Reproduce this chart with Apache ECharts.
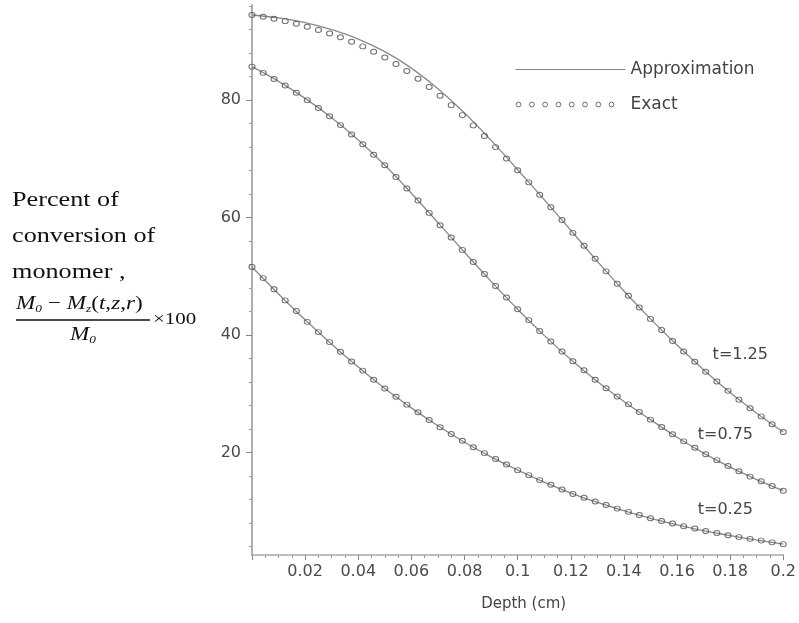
<!DOCTYPE html>
<html>
<head>
<meta charset="utf-8">
<script src="https://cdn.jsdelivr.net/npm/echarts@6/dist/echarts.min.js"></script>
<style>
  html, body { margin: 0; padding: 0; background: #fff; }
  #chart { width: 799px; height: 623px; }
</style>
</head>
<body>
<div id="chart"></div>
<script>
// Depth grid (cm) for the exact solution points
const depthExact = [0, 0.0042, 0.0083, 0.0125, 0.0167, 0.0208, 0.025, 0.0292, 0.0333, 0.0375,
  0.0417, 0.0458, 0.05, 0.0542, 0.0583, 0.0625, 0.0667, 0.0708, 0.075, 0.0792,
  0.0833, 0.0875, 0.0917, 0.0958, 0.1, 0.1042, 0.1083, 0.1125, 0.1167, 0.1208,
  0.125, 0.1292, 0.1333, 0.1375, 0.1417, 0.1458, 0.15, 0.1542, 0.1583, 0.1625,
  0.1667, 0.1708, 0.175, 0.1792, 0.1833, 0.1875, 0.1917, 0.1958, 0.2];

// Depth grid (cm) for the approximate curves
const depthApprox = [0, 0.01, 0.02, 0.03, 0.04, 0.05, 0.06, 0.07, 0.08, 0.09, 0.1,
  0.11, 0.12, 0.13, 0.14, 0.15, 0.16, 0.17, 0.18, 0.19, 0.2];

// Percent conversion, approximation
const approxT125 = [94.5, 94.0, 93.2, 92.0, 90.4, 88.25, 85.45, 81.95, 77.8, 73.15, 68.15,
  63.05, 57.85, 52.55, 47.5, 42.75, 38.3, 34.1, 30.2, 26.7, 23.5];
const approxT075 = [85.7, 83.2, 80.3, 77.0, 73.2, 68.9, 64.15, 59.15, 54.1, 49.15, 44.4,
  39.95, 35.85, 32.1, 28.7, 25.6, 22.6, 19.9, 17.5, 15.4, 13.5];
const approxT025 = [51.6, 47.0, 42.6, 38.45, 34.55, 30.9, 27.6, 24.55, 21.75, 19.25, 17.0,
  14.95, 13.1, 11.5, 10.1, 8.8, 7.7, 6.7, 5.85, 5.1, 4.4];

// Percent conversion, exact solution
const exactT125 = [94.5, 94.2, 93.85, 93.45, 93.0, 92.5, 91.95, 91.35, 90.7, 89.95,
  89.15, 88.25, 87.25, 86.15, 84.95, 83.65, 82.25, 80.75, 79.15, 77.45,
  75.7, 73.9, 72.0, 70.05, 68.05, 66.0, 63.9, 61.75, 59.6, 57.4,
  55.2, 53.0, 50.85, 48.75, 46.7, 44.7, 42.75, 40.85, 39.0, 37.2,
  35.45, 33.75, 32.1, 30.5, 29.0, 27.55, 26.15, 24.8, 23.5];
const exactT075 = [85.7, 84.65, 83.6, 82.5, 81.25, 80.0, 78.65, 77.25, 75.75, 74.15,
  72.5, 70.7, 68.9, 66.9, 64.95, 62.9, 60.8, 58.7, 56.6, 54.5,
  52.45, 50.4, 48.35, 46.4, 44.4, 42.55, 40.7, 38.9, 37.2, 35.55,
  34.0, 32.4, 30.95, 29.55, 28.2, 26.9, 25.6, 24.35, 23.1, 21.9,
  20.8, 19.7, 18.7, 17.7, 16.8, 15.9, 15.1, 14.3, 13.5];
const exactT025 = [51.6, 49.7, 47.8, 45.9, 44.1, 42.25, 40.5, 38.8, 37.15, 35.5,
  33.95, 32.4, 30.9, 29.5, 28.15, 26.85, 25.55, 24.3, 23.15, 22.0,
  20.9, 19.9, 18.9, 17.95, 17.0, 16.15, 15.3, 14.5, 13.7, 12.95,
  12.3, 11.65, 11.05, 10.45, 9.9, 9.35, 8.8, 8.35, 7.9, 7.45,
  7.05, 6.65, 6.3, 5.9, 5.6, 5.3, 5.0, 4.7, 4.4];

// Curve names and axis ticks
const curveNames = ['t=1.25', 't=0.75', 't=0.25'];
const yMajorTicks = [20, 40, 60, 80];
const yMinorTicks = [4, 8, 12, 16, 24, 28, 32, 36, 44, 48, 52, 56, 64, 68, 72, 76, 84, 88, 92, 96];
const yRange = [2.55, 96.2];
const xRange = [0, 0.2];

const pairs = (xs, ys) => xs.map((x, i) => [x, ys[i]]);

const SANS = '"DejaVu Sans", sans-serif';
const SERIF = '"Liberation Serif", "Times New Roman", serif';
const LINE_COLOR = '#8a8a8a';
const DOT_COLOR = '#4d4d4d';

function lineSeries(values) {
  return {
    type: 'line', name: 'Approximation',
    data: pairs(depthApprox, values),
    smooth: 0.4, showSymbol: false, silent: true,
    lineStyle: { color: LINE_COLOR, width: 1.3 },
    itemStyle: { color: LINE_COLOR },
    z: 2
  };
}
function dotSeries(values) {
  return {
    type: 'scatter', name: 'Exact',
    data: pairs(depthExact, values),
    symbol: 'circle', symbolSize: [6, 5], silent: true,
    itemStyle: { color: 'rgba(255,255,255,0)', borderColor: DOT_COLOR, borderWidth: 1 },
    z: 3
  };
}

// legend icons: a thin rule, and a row of small rings
const ruleIcon = 'path://M0,0M110,8M0,3.4L110,3.4L110,4.6L0,4.6Z';
let ringIcon = 'path://M0,0M110,8';
for (let i = 0; i < 8; i++) {
  const cx = 3 + i * 13.3, r = 2.4;
  ringIcon += `M${cx - r},4A${r},${r} 0 1,0 ${cx + r},4A${r},${r} 0 1,0 ${cx - r},4Z`;
}

const chart = echarts.init(document.getElementById('chart'), null, { renderer: 'canvas' });

const option = {
  animation: false,
  backgroundColor: '#fff',
  grid: { left: 252, right: 13, top: 5, bottom: 68, containLabel: false },
  legend: {
    orient: 'vertical', left: 513, top: 61, padding: 0,
    itemWidth: 110, itemHeight: 8, itemGap: 18,
    textStyle: { fontFamily: SANS, fontSize: 17, color: '#444' },
    data: [
      { name: 'Approximation', icon: ruleIcon, itemStyle: { color: LINE_COLOR, borderWidth: 0 } },
      { name: 'Exact', icon: ringIcon, itemStyle: { color: 'none', borderColor: DOT_COLOR, borderWidth: 1 } }
    ]
  },
  xAxis: {
    type: 'value', min: xRange[0], max: xRange[1], interval: 0.02,
    axisLine: { onZero: false, lineStyle: { color: '#a8a8a8', width: 1.5 } },
    axisTick: { length: 5, lineStyle: { color: '#888' } },
    minorTick: { show: true, splitNumber: 4, length: 3, lineStyle: { color: '#999' } },
    splitLine: { show: false },
    axisLabel: {
      margin: 9, fontFamily: SANS, fontSize: 16, color: '#4a4a4a',
      formatter: v => (v === 0 ? '' : String(+v.toFixed(2)))
    },
    name: 'Depth (cm)', nameLocation: 'middle', nameGap: 42,
    nameTextStyle: { fontFamily: SANS, fontSize: 15, color: '#444', padding: [0, 0, 0, 12] }
  },
  yAxis: [
    {
      type: 'value', min: yRange[0], max: yRange[1],
      axisLine: { show: true, onZero: false, lineStyle: { color: '#a8a8a8', width: 1.8 } },
      axisTick: { show: true, length: 6, customValues: yMajorTicks, lineStyle: { color: '#888' } },
      axisLabel: { customValues: yMajorTicks, margin: 11, fontFamily: SANS, fontSize: 16, color: '#4a4a4a' },
      splitLine: { show: false }
    },
    {
      type: 'value', min: yRange[0], max: yRange[1], position: 'left',
      axisLine: { show: false },
      axisTick: { show: true, length: 3, customValues: yMinorTicks, lineStyle: { color: '#999' } },
      axisLabel: { show: false },
      splitLine: { show: false }
    }
  ],
  series: [
    lineSeries(approxT125), lineSeries(approxT075), lineSeries(approxT025),
    dotSeries(exactT125), dotSeries(exactT075), dotSeries(exactT025)
  ]
};
chart.setOption(option);

// curve captions, anchored in data coordinates
const captionAnchors = [[0.1734, 36.6], [0.1678, 22.98], [0.1678, 10.2]];
const captions = curveNames.map((name, i) => {
  const p = chart.convertToPixel({ gridIndex: 0 }, captionAnchors[i]);
  return {
    type: 'text', x: p[0], y: p[1],
    style: { text: name, font: '16px ' + SANS, fill: '#444', textVerticalAlign: 'middle' }
  };
});

// y axis title on the left, drawn in a serif face
const SX = 1.31;
const rich = {
  i: { fontFamily: SERIF, fontStyle: 'italic', fontSize: 19, fill: '#111' },
  n: { fontFamily: SERIF, fontSize: 19, fill: '#111' },
  s: { fontFamily: SERIF, fontStyle: 'italic', fontSize: 11, fill: '#111', padding: [10, 0, 0, 0], verticalAlign: 'bottom' }
};
const yTitle = [
  { type: 'text', x: 12, y: 201, scaleX: SX, style: { text: 'Percent of', font: '20px ' + SERIF, fill: '#111', textVerticalAlign: 'middle' } },
  { type: 'text', x: 12, y: 237, scaleX: SX, style: { text: 'conversion of', font: '20px ' + SERIF, fill: '#111', textVerticalAlign: 'middle' } },
  { type: 'text', x: 12, y: 273, scaleX: SX, style: { text: 'monomer ,', font: '20px ' + SERIF, fill: '#111', textVerticalAlign: 'middle' } },
  { type: 'text', x: 16, y: 304, scaleX: 1.22, style: { text: '{i|M}{s|0}{n| − }{i|M}{s|z}{n|(}{i|t}{n|,}{i|z}{n|,}{i|r}{n|)}', rich: rich, textVerticalAlign: 'middle' } },
  { type: 'line', shape: { x1: 16, y1: 320, x2: 150, y2: 320 }, style: { stroke: '#111', lineWidth: 1.4 } },
  { type: 'text', x: 83, y: 335, scaleX: 1.22, style: { text: '{i|M}{s|0}', rich: rich, textAlign: 'center', textVerticalAlign: 'middle' } },
  { type: 'text', x: 153, y: 320, scaleX: SX, style: { text: '×100', font: '16px ' + SERIF, fill: '#111', textVerticalAlign: 'middle' } }
];

chart.setOption({ graphic: captions.concat(yTitle) });
</script>
</body>
</html>
